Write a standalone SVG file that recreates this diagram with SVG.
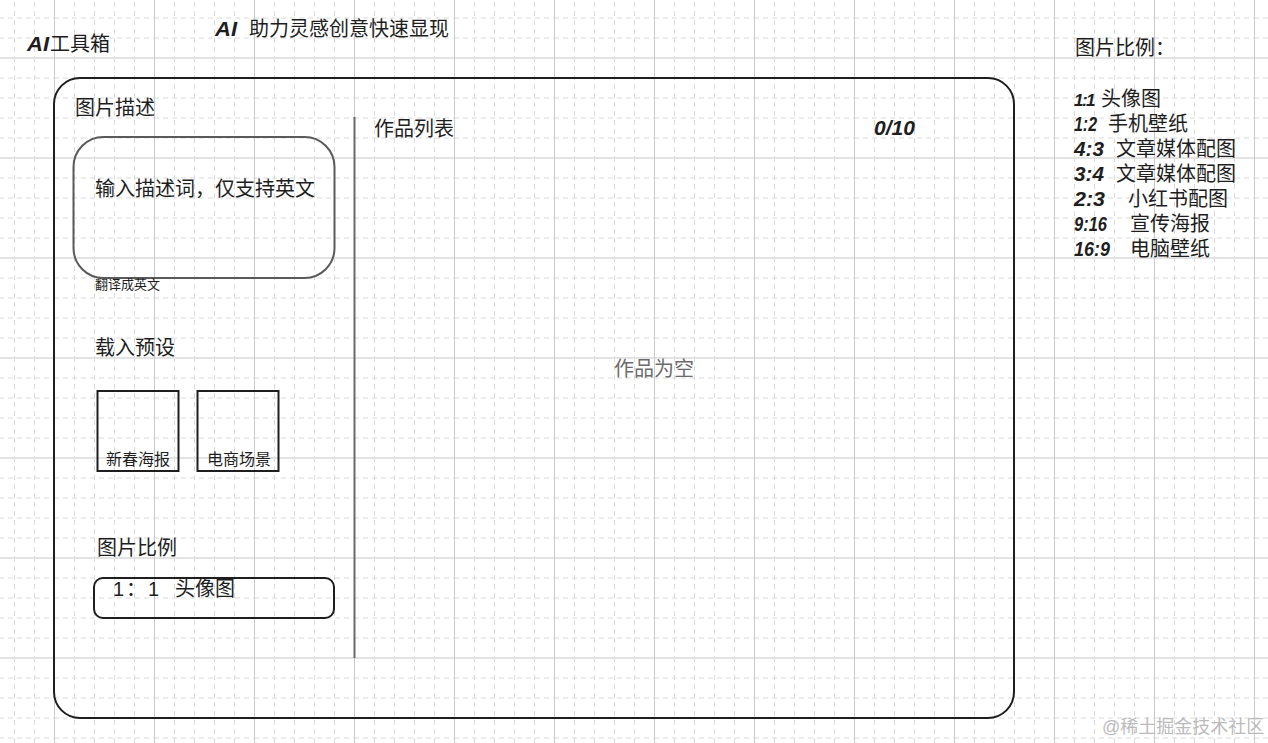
<svg xmlns="http://www.w3.org/2000/svg" width="1268" height="743" viewBox="0 0 1268 743">
<defs>
<pattern id="grid" patternUnits="userSpaceOnUse" x="54" y="57" width="100" height="100">
<g stroke="#dadada" stroke-width="1" stroke-dasharray="5 4" fill="none">
<line x1="20.5" y1="0" x2="20.5" y2="100"/>
<line x1="40.5" y1="0" x2="40.5" y2="100"/>
<line x1="60.5" y1="0" x2="60.5" y2="100"/>
<line x1="80.5" y1="0" x2="80.5" y2="100"/>
<line x1="0" y1="21" x2="100" y2="21"/>
<line x1="0" y1="41" x2="100" y2="41"/>
<line x1="0" y1="61" x2="100" y2="61"/>
<line x1="0" y1="81" x2="100" y2="81"/>
</g>
<line x1="0" y1="1" x2="100" y2="1" stroke="#e3e3e3" stroke-width="2"/>
<line x1="0.5" y1="0" x2="0.5" y2="100" stroke="#cacaca" stroke-width="1"/>
</pattern>
<style>
.t{font-family:"Liberation Sans","Noto Sans CJK SC",sans-serif;font-size:20px;fill:#1e1e1e}
.d{font-family:"Liberation Sans",sans-serif;font-size:20px;fill:#1e1e1e;font-weight:bold;font-style:italic}
.dark{fill:none;stroke:#1e1e1e;stroke-width:2}
.gray{fill:none;stroke:#5a5a5a;stroke-width:2}
</style>
</defs>
<rect width="1268" height="743" fill="#ffffff"/>
<rect width="1268" height="743" fill="url(#grid)"/>

<g id="title-toolbox"><text class="d" x="27" y="51" textLength="22" lengthAdjust="spacingAndGlyphs">AI</text><text class="t" x="50" y="51">工具箱</text></g>
<g id="title-slogan"><text class="d" x="215" y="36" textLength="22" lengthAdjust="spacingAndGlyphs">AI</text><text class="t" x="249" y="36">助力灵感创意快速显现</text></g>

<g id="main-frame"><rect class="dark" x="54" y="78" width="960" height="640" rx="26" ry="26"/></g>

<g id="divider"><line x1="354.5" y1="117" x2="354.5" y2="658" stroke="#6a6a6a" stroke-width="2"/></g>

<g id="desc-label"><text class="t" x="75" y="114.5">图片描述</text></g>
<g id="desc-input">
<rect class="gray" x="73.5" y="137" width="261" height="141" rx="30" ry="30"/>
<text class="t" x="95" y="196">输入描述词，仅支持英文</text>
</g>
<g id="translate"><text class="t" x="95" y="289" style="font-size:13px">翻译成英文</text></g>

<g id="preset-label"><text class="t" x="95" y="355">载入预设</text></g>
<g id="preset-1">
<rect class="dark" x="97.5" y="391" width="81" height="80"/>
<text class="t" x="106" y="465" style="font-size:16px">新春海报</text>
</g>
<g id="preset-2">
<rect class="dark" x="197.5" y="391" width="81" height="80"/>
<text class="t" x="207" y="465" style="font-size:16px">电商场景</text>
</g>

<g id="ratio-label"><text class="t" x="97" y="554.5">图片比例</text></g>
<g id="ratio-select">
<rect class="dark" x="94" y="578" width="240" height="40" rx="9" ry="9"/>
<text class="t" x="113" y="596">1</text>
<text class="t" x="126" y="596">：</text>
<text class="t" x="148" y="596">1</text>
<text class="t" x="175" y="596">头像图</text>
</g>

<g id="works-label"><text class="t" x="374" y="136">作品列表</text></g>
<g id="works-count"><text class="d" x="874" y="135" textLength="41" lengthAdjust="spacingAndGlyphs">0/10</text></g>
<g id="works-empty"><text class="t" x="614" y="376" style="fill:#6b6b6b">作品为空</text></g>

<g id="ratio-list">
<text class="t" x="1075" y="54.5">图片比例：</text>
<text class="d" x="1074" y="106" style="font-size:17px;letter-spacing:-1.5px">1:1</text><text class="t" x="1101" y="106">头像图</text>
<text class="d" x="1074" y="131" textLength="23" lengthAdjust="spacingAndGlyphs">1:2</text><text class="t" x="1108" y="131">手机壁纸</text>
<text class="d" x="1074" y="156" textLength="30" lengthAdjust="spacingAndGlyphs">4:3</text><text class="t" x="1116" y="156">文章媒体配图</text>
<text class="d" x="1074" y="181" textLength="30" lengthAdjust="spacingAndGlyphs">3:4</text><text class="t" x="1116" y="181">文章媒体配图</text>
<text class="d" x="1074" y="206" textLength="31" lengthAdjust="spacingAndGlyphs">2:3</text><text class="t" x="1128" y="206">小红书配图</text>
<text class="d" x="1074" y="231" textLength="33" lengthAdjust="spacingAndGlyphs">9:16</text><text class="t" x="1130" y="231">宣传海报</text>
<text class="d" x="1074" y="256" textLength="36" lengthAdjust="spacingAndGlyphs">16:9</text><text class="t" x="1130" y="256">电脑壁纸</text>
</g>

<g id="watermark"><text class="t" x="1102" y="733" style="font-size:18px;fill:#bbbbbb">@稀土掘金技术社区</text></g>
</svg>
